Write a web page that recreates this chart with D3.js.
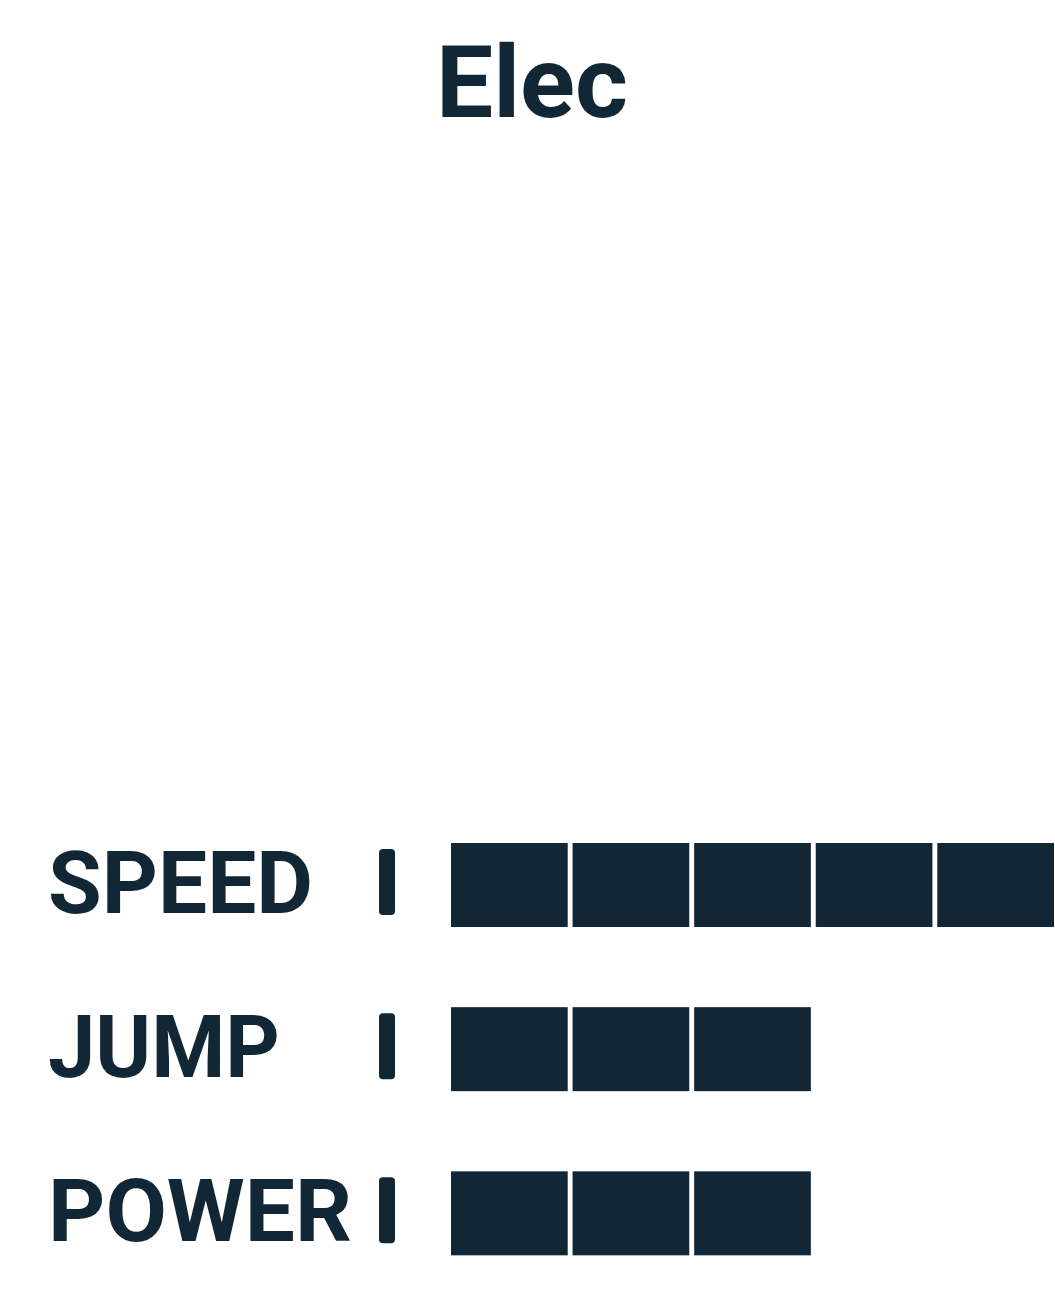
<!DOCTYPE html>
<html>
<head>
<meta charset="utf-8">
<script src="https://cdn.jsdelivr.net/npm/d3@7"></script>
<style>body{margin:0;background:#fff}</style>
</head>
<body>
<svg id="chart" width="1055" height="1300"></svg>
<script>
var title = 'Elec';
var stats = ['SPEED', 'JUMP', 'POWER'];
var values = [5, 3, 3];
var maxValue = 5;
var labelWidths = [265, 232, 304];

var colour = '#122736';
var svg = d3.select('#chart');

svg.append('text')
	.attr('x', 532).attr('y', 117)
	.attr('text-anchor', 'middle')
	.attr('font-family', 'Roboto, sans-serif').attr('font-weight', 700)
	.attr('font-size', 100).attr('fill', colour)
	.attr('textLength', 192).attr('lengthAdjust', 'spacingAndGlyphs')
	.text(title);

var y = d3.scaleBand().domain(stats).range([843, 1255]).paddingInner(0.94 / 1);
y = d3.scaleBand().domain(stats).range([843, 1337]).paddingInner(0).paddingOuter(0);
var x = d3.scaleBand().domain(d3.range(maxValue)).range([451, 1054]).paddingInner(0.04);

var rows = svg.selectAll('g.row').data(stats).enter().append('g')
	.attr('class', 'row')
	.attr('transform', function(d) { return 'translate(0,' + (y(d) - (stats.indexOf(d) === 2 ? 0 : 0) - stats.indexOf(d) * 0.5) + ')'; });

rows.append('text')
	.attr('x', 48).attr('y', 70)
	.attr('font-family', 'Roboto, sans-serif').attr('font-weight', 700)
	.attr('font-size', 88).attr('fill', colour)
	.attr('textLength', function(d, i) { return labelWidths[i]; })
	.attr('lengthAdjust', 'spacingAndGlyphs')
	.text(function(d) { return d; });

rows.append('rect')
	.attr('x', 379).attr('y', 6).attr('width', 16).attr('height', 66)
	.attr('rx', 4).attr('fill', colour);

rows.selectAll('rect.block')
	.data(function(d, i) { return d3.range(values[i]); })
	.enter().append('rect')
	.attr('class', 'block')
	.attr('x', function(d) { return x(d); })
	.attr('y', 0)
	.attr('width', x.bandwidth())
	.attr('height', 84)
	.attr('fill', colour);
</script>
</body>
</html>
